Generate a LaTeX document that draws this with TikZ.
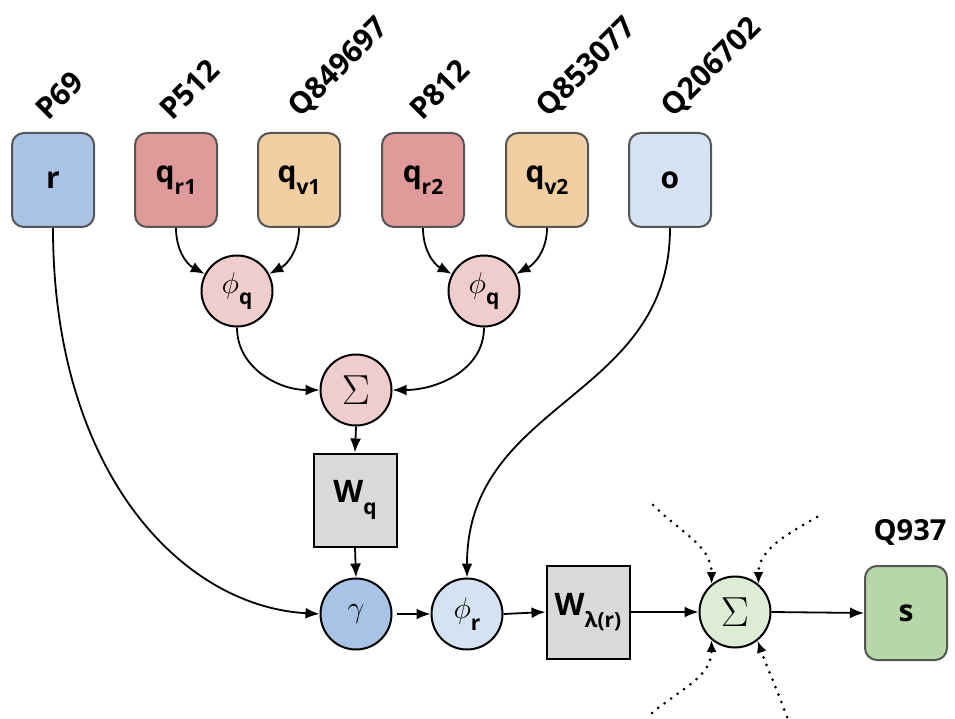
\RequirePackage{fix-cm}
\documentclass[tikz,border=0pt]{standalone}
\usepackage{fontspec}
\setmainfont{Open Sans}
\usetikzlibrary{arrows.meta}

\definecolor{relblue}{HTML}{A8C3E5}
\definecolor{qred}{HTML}{DF9A99}
\definecolor{qorange}{HTML}{F2CFA2}
\definecolor{objblue}{HTML}{D5E2F2}
\definecolor{phipink}{HTML}{F0CDCD}
\definecolor{wgray}{HTML}{D9D9D9}
\definecolor{sumgreen}{HTML}{DDEDD5}
\definecolor{subjgreen}{HTML}{B7D7A8}
\definecolor{boxline}{HTML}{555555}

\newcommand\lowsub[1]{\raisebox{-0.38em}{\fontsize{21}{24}\selectfont\bfseries #1}}

\tikzset{
  entity/.style={draw=boxline, line width=2pt, rounded corners=12pt,
    minimum width=82pt, minimum height=94pt, inner sep=0pt,
    font=\fontsize{30}{36}\selectfont\bfseries},
  weight/.style={draw=black, line width=2pt, fill=wgray,
    minimum width=83pt, minimum height=93pt, inner sep=0pt,
    font=\fontsize{31}{36}\selectfont\bfseries},
  op/.style={circle, draw=black, line width=2pt, minimum size=71pt, inner sep=0pt,
    font=\fontsize{30}{36}\selectfont},
  idlabel/.style={rotate=45, anchor=base west, inner sep=0pt,
    font=\fontsize{30}{36}\selectfont\bfseries},
  conn/.style={line width=1.8pt, -{Latex[length=14pt,width=11pt]}},
  hint/.style={line width=3pt, line cap=round, dash pattern=on 0pt off 8pt,
    -{Latex[length=12pt,width=10pt]}}
}

\begin{document}
\begin{tikzpicture}[x=1pt,y=1pt]
\useasboundingbox (0,0) rectangle (955,-719);

% input entities and relations
\node[entity, fill=relblue] (r)   at (53,-180)  {r};
\node[entity, fill=qred]    (qr1) at (176,-180) {q\lowsub{r1}};
\node[entity, fill=qorange] (qv1) at (299,-180) {q\lowsub{v1}};
\node[entity, fill=qred]    (qr2) at (423,-180) {q\lowsub{r2}};
\node[entity, fill=qorange] (qv2) at (547,-180) {q\lowsub{v2}};
\node[entity, fill=objblue] (o)   at (670,-180) {o};
\node[entity, fill=subjgreen] (s) at (906,-613) {s};

% identifiers, on a slant above the inputs
\node[idlabel] (lr)   at (48,-122)  {P69};
\node[idlabel] (lqr1) at (172,-122) {P512};
\node[idlabel] (lqv1) at (300,-119) {Q849697};
\node[idlabel] (lqr2) at (422,-122) {P812};
\node[idlabel] (lqv2) at (548,-119) {Q853077};
\node[idlabel] (lo)   at (673,-119) {Q206702};
\node[anchor=base, inner sep=0pt, font=\fontsize{29}{36}\selectfont\bfseries]
  (ls) at (910,-540) {Q937};

% operators
\node[op, fill=phipink] (phi1) at (237,-291) {$\phi$\lowsub{q}};
\node[op, fill=phipink] (phi2) at (484,-291) {$\phi$\lowsub{q}};
\node[op, fill=phipink] (sumq) at (356,-390) {\fontsize{42}{46}\selectfont$\Sigma$};
\node[weight] (Wq) at (355,-500) {W\lowsub{q}};
\node[op, fill=relblue] (gam) at (356,-614) {$\gamma$};
\node[op, fill=objblue] (phir) at (467,-614) {$\phi$\lowsub{r}};
\node[weight] (Wl) at (588,-612) {W\lowsub{λ(r)}};
\node[op, fill=sumgreen] (sumg) at (735,-612) {\fontsize{42}{46}\selectfont$\Sigma$};

% qualifier composition
\draw[conn] (qr1.south) to[out=-90, in=152] (phi1.152);
\draw[conn] (qv1.south) to[out=-90, in=28] (phi1.28);
\draw[conn] (qr2.south) to[out=-90, in=152] (phi2.152);
\draw[conn] (qv2.south) to[out=-90, in=28] (phi2.28);
\draw[conn] (phi1.south) to[out=-90, in=180] (sumq.west);
\draw[conn] (phi2.south) to[out=-90, in=0] (sumq.east);
\draw[conn] (sumq.south) -- (Wq.north);
\draw[conn] (Wq.south) -- (gam.north);

% relation and object paths
\draw[conn] (r.south) .. controls (53,-470) and (180,-606) .. (gam.west);
\draw[conn] (o.south) .. controls (670,-400) and (467,-400) .. (phir.north);
\draw[conn] ([xshift=4pt]gam.east) -- (phir.west);
\draw[conn] (phir.east) -- (Wl.west);
\draw[conn] (Wl.east) -- (sumg.west);
\draw[conn] (sumg.east) -- (s.west);

% further incoming messages
\coordinate (ul) at (653,-505);
\coordinate (ur) at (817,-517);
\coordinate (dl) at (652,-713);
\coordinate (dr) at (787,-717);
\draw[hint] (ul) to[out=-45, in=90] (sumg.130);
\draw[hint] (ur) to[out=-150, in=90] (sumg.50);
\draw[hint] (dl) to[out=40, in=-90] (sumg.-130);
\draw[hint] (dr) to[out=110, in=-70] (sumg.-52);
\end{tikzpicture}
\end{document}
